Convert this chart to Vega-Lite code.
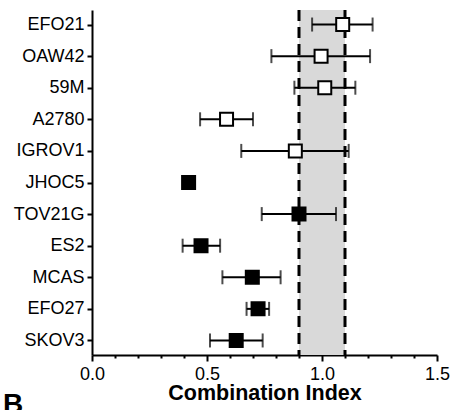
{
  "$schema": "https://vega.github.io/schema/vega-lite/v6.json",
  "autosize": {"type": "none"},
  "padding": {"left": 92, "top": 10, "right": 15, "bottom": 55},
  "width": 345,
  "height": 345,
  "background": "white",
  "config": {
    "view": {"stroke": null},
    "font": "Liberation Sans",
    "axis": {"labelFont": "Liberation Sans", "titleFont": "Liberation Sans", "labelColor": "black", "titleColor": "black", "domainColor": "black", "tickColor": "black"},
    "axisX": {"labelOverlap": false, "labelFlush": false, "labelBound": false}
  },
  "title": {
    "text": "B",
    "orient": "bottom",
    "anchor": "start",
    "frame": "group",
    "fontSize": 28,
    "fontWeight": "bold",
    "font": "Liberation Sans",
    "color": "black",
    "dx": -89,
    "dy": -13,
    "offset": 0
  },
  "data": {
    "values": [
      {"cell": "EFO21", "ci": 1.09, "lo": 0.957, "hi": 1.22, "type": "open"},
      {"cell": "OAW42", "ci": 0.996, "lo": 0.78, "hi": 1.209, "type": "open"},
      {"cell": "59M", "ci": 1.012, "lo": 0.88, "hi": 1.145, "type": "open"},
      {"cell": "A2780", "ci": 0.585, "lo": 0.47, "hi": 0.70, "type": "open"},
      {"cell": "IGROV1", "ci": 0.884, "lo": 0.649, "hi": 1.116, "type": "open"},
      {"cell": "JHOC5", "ci": 0.42, "lo": 0.42, "hi": 0.42, "type": "filled"},
      {"cell": "TOV21G", "ci": 0.9, "lo": 0.738, "hi": 1.061, "type": "filled"},
      {"cell": "ES2", "ci": 0.474, "lo": 0.394, "hi": 0.557, "type": "filled"},
      {"cell": "MCAS", "ci": 0.697, "lo": 0.567, "hi": 0.82, "type": "filled"},
      {"cell": "EFO27", "ci": 0.722, "lo": 0.672, "hi": 0.77, "type": "filled"},
      {"cell": "SKOV3", "ci": 0.627, "lo": 0.513, "hi": 0.742, "type": "filled"}
    ]
  },
  "encoding": {
    "y": {
      "field": "cell",
      "type": "nominal",
      "sort": null,
      "scale": {"type": "point", "padding": 0.46},
      "axis": {
        "title": null,
        "domainWidth": 2,
        "tickWidth": 2,
        "tickSize": 5,
        "labelPadding": 3,
        "labelFontSize": 18,
        "grid": false
      }
    },
    "x": {
      "field": "lo",
      "type": "quantitative",
      "scale": {"domain": [0, 1.5], "nice": false, "zero": false},
      "axis": {
        "title": "Combination Index",
        "titleFontSize": 21.5,
        "titleFontWeight": "bold",
        "titlePadding": -1,
        "values": [0, 0.1, 0.2, 0.3, 0.4, 0.5, 0.6, 0.7, 0.8, 0.9, 1.0, 1.1, 1.2, 1.3, 1.4, 1.5],
        "labelExpr": "abs(datum.value*2 - round(datum.value*2)) < 0.001 ? format(datum.value, '.1f') : ''",
        "labelFontSize": 18,
        "labelOverlap": false,
        "labelFlush": false,
        "labelPadding": 4,
        "tickSize": {"condition": {"test": "abs(datum.value*2 - round(datum.value*2)) < 0.001", "value": 6}, "value": 3},
        "tickWidth": 2,
        "domainWidth": 2,
        "grid": false
      }
    }
  },
  "layer": [
    {
      "mark": {"type": "rect", "color": "#d9d9d9"},
      "encoding": {
        "x": {"datum": 0.9, "type": "quantitative"},
        "x2": {"datum": 1.1},
        "y": {"value": 0},
        "y2": {"value": 345}
      }
    },
    {
      "data": {"values": [{"v": 0.9}, {"v": 1.1}]},
      "mark": {"type": "rule", "color": "black", "strokeWidth": 3, "strokeDash": [11, 6]},
      "encoding": {
        "x": {"field": "v", "type": "quantitative"},
        "y": {"value": 0},
        "y2": {"value": 345}
      }
    },
    {
      "mark": {"type": "rule", "color": "black", "strokeWidth": 2},
      "encoding": {
        "x2": {"field": "hi"}
      }
    },
    {
      "mark": {"type": "tick", "color": "black", "thickness": 2, "size": 14, "orient": "vertical"},
      "encoding": {}
    },
    {
      "mark": {"type": "tick", "color": "black", "thickness": 2, "size": 14, "orient": "vertical"},
      "encoding": {"x": {"field": "hi", "type": "quantitative"}}
    },
    {
      "mark": {"type": "point", "shape": "square", "size": 169, "filled": true, "stroke": "black", "strokeWidth": 2, "opacity": 1},
      "encoding": {
        "x": {"field": "ci", "type": "quantitative"},
        "fill": {
          "field": "type",
          "type": "nominal",
          "scale": {"domain": ["open", "filled"], "range": ["white", "black"]},
          "legend": null
        }
      }
    }
  ]
}
